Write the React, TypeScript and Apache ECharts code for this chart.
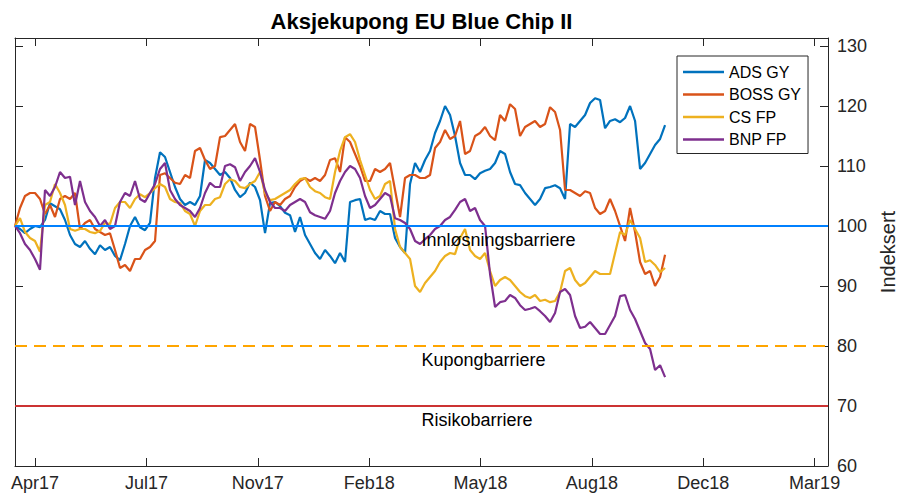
import React, { useEffect, useRef } from "react";
import * as echarts from "echarts";

// x values are MATLAB-style day numbers (datenum)
const START_DN = 736782; // 28 Mar 2017
const END_DN = 737512; // 28 Mar 2019
const STEP_DAYS = 4.49;
const TICK_DN = [736800, 736900, 737000, 737100, 737200, 737300, 737400, 737500];
const Y_TICKS = [60, 70, 80, 90, 100, 110, 120, 130];

const SERIES_NAMES = ["ADS GY", "BOSS GY", "CS FP", "BNP FP"];
const SERIES_COLORS = ["#0072BD", "#D95319", "#EDB120", "#7E2F8E"];

const ads = [
  100, 99.5, 98.8, 99.5, 100, 99.8, 101, 103.8, 103.3, 102.8,
  101, 98.5, 97, 96.5, 97.5, 96.2, 95.3, 96.8, 96, 96.5,
  95, 94.3, 97, 100, 101.5, 99.8, 99.3, 100.5, 108, 112.3,
  111.5, 109, 106.5, 104.5, 103.5, 104, 103.5, 105, 111, 110.5,
  109.5, 108.5, 109, 108, 106, 104.8, 105.5, 107.2, 106.5, 104.3,
  98.8, 103.8, 104, 103.3, 102.2, 101.8, 99, 101.5, 98.5, 97,
  95.5, 94.5, 96, 95, 93.8, 95.5, 94, 104, 104.3, 104.5,
  101, 101.3, 101, 102.5, 102, 102, 98, 96.5, 95.5, 107,
  110.5, 109, 111, 112.5, 115.5, 117.5, 120, 118.5, 115, 110.5,
  108.5, 108.5, 107.8, 108.8, 109.2, 109.5, 110.5, 112.5, 112, 109,
  107, 106.8, 105.5, 104.5, 103.5, 104.5, 106.3, 106.5, 106.8, 106.3,
  104.5, 117, 116.5, 117.5, 118.5, 120.5, 121.3, 121, 116.3, 117.5,
  117.8, 117.3, 118, 120, 117.5, 109.5, 110.5, 112, 113.5, 114.5, 116.8,
];

const boss = [
  100, 103, 105, 105.5, 105.5, 104.5, 102, 103.5, 101.5, 104.5,
  105, 104.5, 105.5, 99.5, 100.5, 101, 99.5, 99, 98.5, 98.8,
  96, 93, 93.5, 92.5, 94.5, 94.5, 96, 96.5, 97.5, 108.5,
  108.8, 108, 107.2, 107, 108.5, 108, 112.5, 113, 111, 109.5,
  110, 114.8, 115, 116, 117, 114, 112.5, 117, 116.5, 111,
  105, 102.5, 104, 103.5, 104.5, 105, 106.5, 107.5, 108, 107.5,
  108, 107.5, 108.5, 111, 111.3, 109, 114.8, 114, 112, 110,
  107.5, 107.5, 109.5, 109, 109.5, 110.5, 106, 101.5, 108, 108.5,
  108.5, 108, 108, 108.5, 113, 114, 116, 114.5, 115, 117.5,
  112, 112.5, 115, 115.5, 116.5, 115, 114.3, 118.5, 117.5, 120.3,
  119.5, 115, 116.5, 117, 117.5, 116.5, 117, 119.8, 119, 116,
  106, 106, 105.5, 105, 105.8, 105.5, 103, 102, 102.5, 104.5,
  102.5, 100, 97.5, 103, 99, 94, 92, 92.5, 90, 91.5, 95.2,
];

const cs = [
  100, 101.3, 99, 98, 97.5, 95.7, 103.5, 104, 107, 105.5,
  103.5, 99.5, 99.2, 99.5, 99.5, 99, 98.8, 99.2, 100.5, 100.3,
  103, 104, 104, 103, 104.5, 105.3, 104.8, 105.5, 106.3, 107,
  106.5, 104.5, 104, 103.8, 102.5, 102, 100, 102.5, 103.5, 103.5,
  104.5, 104.8, 107, 107.8, 107.5, 106.5, 106.3, 107, 107.5, 109,
  105.5, 104.3, 104.5, 105, 105.5, 106, 107, 107.8, 108, 106.5,
  105.8, 105.5, 104.8, 104.5, 109, 112.5, 114.8, 115.3, 114, 111,
  108.5, 106, 104.5, 105, 107, 107.5, 99.5, 96.5, 95.5, 94.5,
  90, 89, 90.5, 91.5, 92.5, 94, 95, 95.5, 95.3, 98,
  99.5, 96, 95, 94.5, 95.5, 92.5, 90, 91, 91.5, 91,
  90, 89, 88.3, 88, 88.5, 87.5, 87.7, 87.3, 87.5, 89,
  92.5, 93, 91, 90, 90.5, 91.5, 92.5, 92, 92, 92,
  95.5, 99, 98.5, 101, 99.5, 98, 94, 94.3, 93.5, 92.3, 93,
];

const bnp = [
  100, 98.8, 97, 96, 94.5, 92.7, 106, 105, 106.5, 109,
  108, 108.2, 103.5, 107.5, 104, 102.5, 101.5, 100, 101, 99.5,
  100, 104, 105.5, 105, 107.5, 104.5, 104, 105.5, 107, 109.5,
  110.5, 106, 104.5, 103.5, 103, 102.5, 101.5, 103, 105.5, 107.2,
  106.5, 106.5, 110, 110.3, 109.8, 107.5, 109, 110, 111.3, 109,
  106, 104, 103, 103, 102.5, 103.5, 104, 104.5, 104, 102.3,
  101.8, 101.5, 101.2, 102.5, 105.5, 107.5, 109, 110, 109.5, 108,
  105, 103, 103.5, 104.5, 105.5, 105, 101.3, 101, 100.5, 99.5,
  97.5, 97, 97.8, 98.5, 99.5, 100, 101, 101.5, 102.7, 104,
  104.5, 102.5, 103, 101, 100, 92, 86.5, 87.3, 87.5, 88.5,
  88, 86.8, 86, 86.2, 86.5, 85.8, 85, 84, 85.5, 89,
  89.5, 88.5, 85, 83, 83.2, 84, 83, 82, 82, 83.5,
  85, 88.3, 88.5, 86, 84.5, 82.5, 80.5, 79.5, 76, 76.8, 74.8,
];

const SERIES_VALUES = [ads, boss, cs, bnp];

const BARRIERS = [100, 80, 70];
const BARRIER_NAMES = ["Innløsningsbarriere", "Kupongbarriere", "Risikobarriere"];
const BARRIER_COLORS = ["#0080FF", "#FFA500", "#CC3333"];
const BARRIER_TYPES = ["solid", "dashed", "solid"];
const LABEL_DN = 737147;
const LABEL_DROP = 2.3;

const MONTHS = ["Jan", "Feb", "Mar", "Apr", "May", "Jun", "Jul", "Aug", "Sep", "Oct", "Nov", "Dec"];
const FONT = "'Liberation Sans', Arial, Helvetica, sans-serif";
const AX = "#262626";

function dnLabel(dn: number): string {
  const d = new Date(Math.round((dn - 719529) * 86400000));
  return MONTHS[d.getUTCMonth()] + String(d.getUTCFullYear()).slice(2);
}

export default function App() {
  const ref = useRef<HTMLDivElement>(null);
  useEffect(() => {
    if (!ref.current) return;
    const chart = echarts.init(ref.current, null, { renderer: "svg" });
    const axisCommon = {
      axisLine: { show: true, onZero: false, lineStyle: { color: AX, width: 1 } },
      splitLine: { show: false },
    };
    const xBase = {
      type: "value",
      min: START_DN,
      max: END_DN,
      ...axisCommon,
      axisTick: { show: true, inside: true, length: 8, customValues: TICK_DN, lineStyle: { color: AX } },
    };
    const yBase = {
      type: "value",
      min: 60,
      max: 131.33,
      ...axisCommon,
      axisTick: { show: true, inside: true, length: 8, customValues: Y_TICKS, lineStyle: { color: AX } },
    };
    const lineSeries = SERIES_NAMES.map((name, k) => ({
      name,
      type: "line",
      xAxisIndex: 0,
      yAxisIndex: 0,
      showSymbol: false,
      symbol: "none",
      data: SERIES_VALUES[k].map((v, i) => [START_DN + i * STEP_DAYS, v]),
      lineStyle: { color: SERIES_COLORS[k], width: 2.2 },
      itemStyle: { color: SERIES_COLORS[k] },
      silent: true,
    }));
    chart.setOption({
      animation: false,
      backgroundColor: "#ffffff",
      textStyle: { fontFamily: FONT },
      grid: { left: 15, right: 70, top: 38, bottom: 30, containLabel: false, outerBoundsMode: "none" },
      graphic: [
        {
          type: "text",
          x: 421.5,
          y: 21.5,
          style: {
            text: "Aksjekupong EU Blue Chip II",
            font: `bold 22px ${FONT}`,
            fill: "#000",
            align: "center",
            verticalAlign: "middle",
            textAlign: "center",
            textVerticalAlign: "middle",
          },
        },
      ],
      legend: {
        data: SERIES_NAMES,
        orient: "vertical",
        left: 677,
        top: 56,
        padding: [8, 7, 6, 6],
        itemGap: 6.5,
        itemWidth: 41,
        itemHeight: 2.5,
        icon: "rect",
        backgroundColor: "#ffffff",
        borderColor: AX,
        borderWidth: 1,
        borderRadius: 0,
        textStyle: { fontSize: 16, color: "#000", fontFamily: FONT },
      },
      xAxis: [
        {
          ...xBase,
          position: "bottom",
          axisLabel: {
            show: true,
            customValues: TICK_DN,
            formatter: (v: number) => dnLabel(v),
            fontSize: 18,
            color: AX,
            margin: 8,
            fontFamily: FONT,
          },
        },
        { ...xBase, position: "top", axisLabel: { show: false } },
      ],
      yAxis: [
        {
          ...yBase,
          position: "right",
          name: "Indeksert",
          nameLocation: "middle",
          nameRotate: 90,
          nameGap: 49,
          nameTextStyle: { fontSize: 20, color: AX, fontFamily: FONT },
          axisLabel: {
            show: true,
            customValues: Y_TICKS,
            fontSize: 18,
            color: AX,
            margin: 9,
            fontFamily: FONT,
          },
        },
        { ...yBase, position: "left", axisLabel: { show: false } },
      ],
      series: [
        ...lineSeries,
        {
          name: "barriers",
          type: "line",
          data: [],
          z: 5,
          silent: true,
          markLine: {
            silent: true,
            symbol: ["none", "none"],
            label: { show: false },
            data: BARRIERS.map((b, k) => ({
              yAxis: b,
              lineStyle: { color: BARRIER_COLORS[k], type: BARRIER_TYPES[k] === "dashed" ? [12, 7] : "solid", width: 2 },
            })),
          },
          markPoint: {
            silent: true,
            symbol: "circle",
            symbolSize: 0,
            label: {
              show: true,
              position: "right",
              distance: 0,
              formatter: "{b}",
              color: "#000",
              fontSize: 18,
              fontFamily: FONT,
            },
            data: BARRIERS.map((b, k) => ({ name: BARRIER_NAMES[k], coord: [LABEL_DN, b - LABEL_DROP] })),
          },
        },
      ],
    });
    return () => chart.dispose();
  }, []);
  return (
    <div
      ref={ref}
      style={{ position: "fixed", left: 0, top: 0, width: 898, height: 496, background: "#fff" }}
    />
  );
}
